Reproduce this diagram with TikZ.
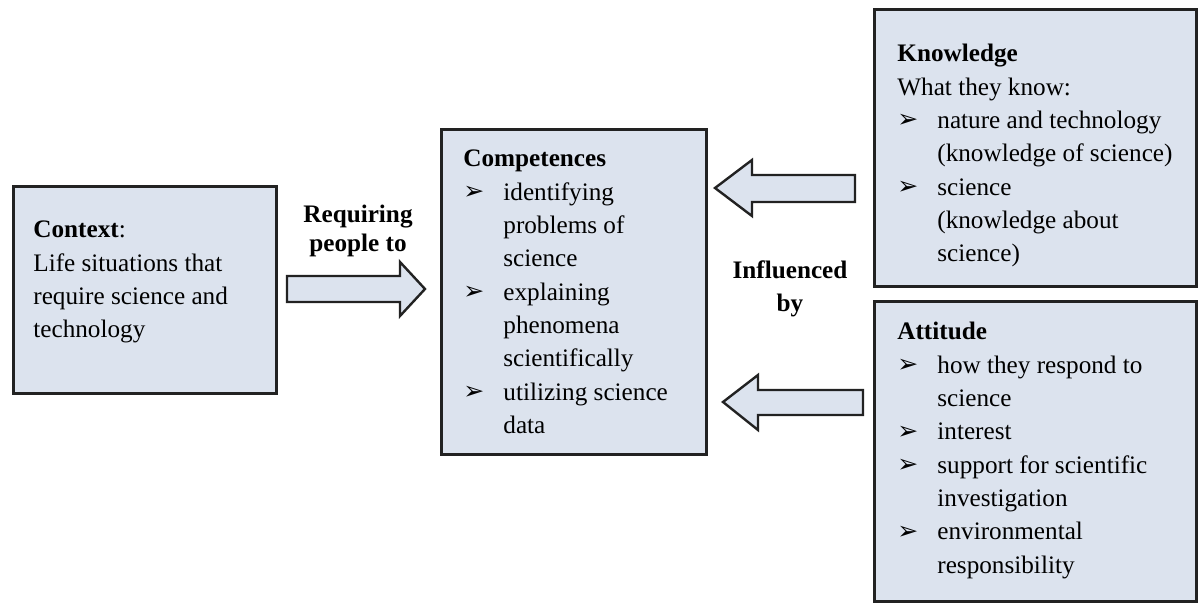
\documentclass[tikz,border=0pt]{standalone}
\usepackage{fontspec}
\setmainfont{Liberation Serif}
\newfontfamily\dingfont{DejaVu Sans}
\definecolor{boxfill}{HTML}{DCE3EE}
\definecolor{edge}{HTML}{222222}
% bullet mark with a fixed hanging indent
\newcommand{\bul}{\makebox[20pt][l]{\raisebox{0.3pt}{\dingfont\fontsize{12.5}{12.5}\selectfont ➢}}}
\newcommand{\ind}{\hspace*{20pt}}
% top-aligned text block whose base is the first baseline
\newcommand{\blocktext}[2]{\parbox[t]{#1}{\raggedright\fontsize{12.6}{16.65}\selectfont #2}}
\tikzset{
  panel/.style={draw=edge, line width=1.4pt, fill=boxfill, inner sep=0pt},
  blockarrow/.style={draw=edge, line width=1.2pt, fill=boxfill, line join=miter},
  txt/.style={anchor=base west, inner sep=0pt},
  lbl/.style={anchor=base, inner sep=0pt, font=\fontsize{12.6}{15}\selectfont\bfseries}
}
\begin{document}
\begin{tikzpicture}[x=0.5pt, y=-0.5pt]
\useasboundingbox (0,0) rectangle (1200,603);
\fill[white] (0,0) rectangle (1200,603);

% panels
\node[panel, minimum width=131.5pt, minimum height=103.5pt, anchor=north west] (context) at (12,185) {};
\node[panel, minimum width=132.5pt, minimum height=162.5pt, anchor=north west] (comp) at (440,128) {};
\node[panel, minimum width=161pt, minimum height=138.5pt, anchor=north west] (know) at (873,8) {};
\node[panel, minimum width=161pt, minimum height=150pt, anchor=north west] (att) at (873,300) {};

% panel texts
\node[txt] (contextText) at (33,238) {\blocktext{125pt}{%
\textbf{Context}:\\
Life situations that\\
require science and\\
technology}};

\node[txt] (compText) at (463,167) {\blocktext{125pt}{%
\textbf{Competences}\\
\bul identifying\\
\ind problems of\\
\ind science\\
\bul explaining\\
\ind phenomena\\
\ind scientifically\\
\bul utilizing science\\
\ind data}};

\node[txt] (knowText) at (897,62) {\blocktext{150pt}{%
\textbf{Knowledge}\\
What they know:\\
\bul nature and technology\\
\ind (knowledge of science)\\
\bul science\\
\ind (knowledge about\\
\ind science)}};

\node[txt] (attText) at (897,340) {\blocktext{150pt}{%
\textbf{Attitude}\\
\bul how they respond to\\
\ind science\\
\bul interest\\
\bul support for scientific\\
\ind investigation\\
\bul environmental\\
\ind responsibility}};

% arrow labels
\node[lbl] (req1) at (358,223) {Requiring};
\node[lbl] (req2) at (358,252) {people to};
\node[lbl] (inf1) at (790,279) {Influenced};
\node[lbl] (inf2) at (790,312) {by};

% block arrows
\draw[blockarrow] (287,276) -- (400,276) -- (400,262) -- (425,289) -- (400,316) -- (400,302) -- (287,302) -- cycle;
\draw[blockarrow] (855,175) -- (752,175) -- (752,160) -- (715,188) -- (752,216) -- (752,202) -- (855,202) -- cycle;
\draw[blockarrow] (863,390) -- (758,390) -- (758,375) -- (723,402) -- (758,430) -- (758,415) -- (863,415) -- cycle;
\end{tikzpicture}
\end{document}
